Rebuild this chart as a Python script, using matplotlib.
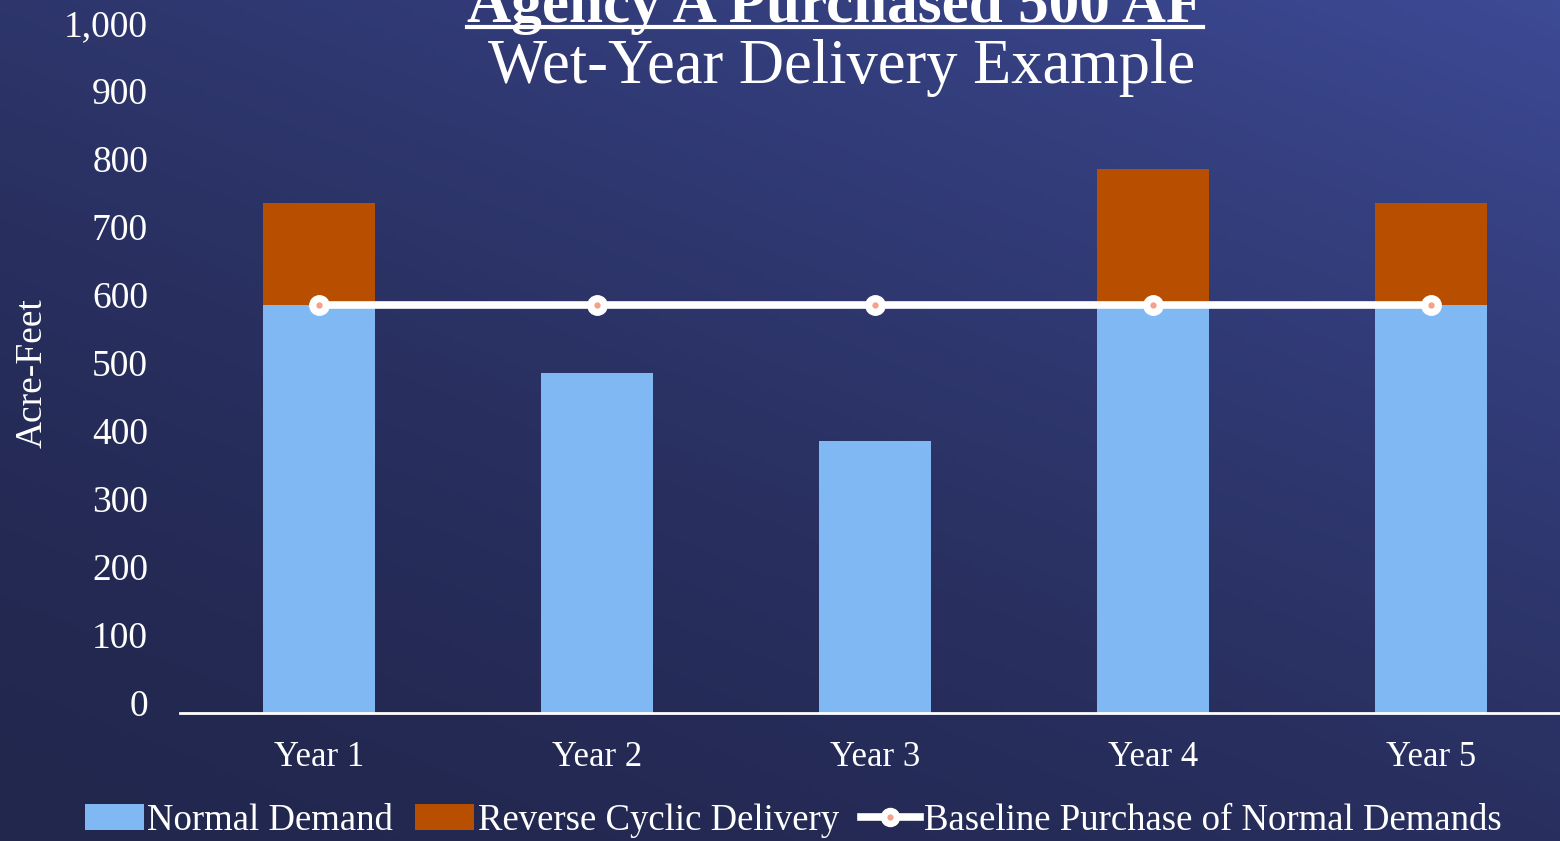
import numpy as np
import matplotlib
matplotlib.use("Agg")
import matplotlib.pyplot as plt
import matplotlib.transforms as mtransforms
from matplotlib.lines import Line2D
from matplotlib.patches import Patch

categories = ["Year 1", "Year 2", "Year 3", "Year 4", "Year 5"]
normal_demand = [600, 500, 400, 600, 600]
reverse_cyclic = [150, 0, 0, 200, 150]
baseline = [600, 600, 600, 600, 600]
yticks = [0, 100, 200, 300, 400, 500, 600, 700, 800, 900, 1000]

plt.rcParams['font.family'] = ['Liberation Serif', 'DejaVu Serif']
W, H = 1560, 841
fig = plt.figure(figsize=(W/100, H/100), dpi=100)

# gradient background
bg = fig.add_axes([0, 0, 1, 1])
xx, yy = np.meshgrid(np.linspace(0, 1, 300), np.linspace(0, 1, 200))
t = 0.55 * xx + 0.75 * yy
t = (t - t.min()) / (t.max() - t.min())
t = t ** 1.6
c0 = np.array([0x22, 0x27, 0x4E]) / 255
c1 = np.array([0x3D, 0x4A, 0x95]) / 255
img = c0[None, None, :] * (1 - t[..., None]) + c1[None, None, :] * t[..., None]
bg.imshow(img, origin='lower', aspect='auto', extent=[0, 1, 0, 1])
bg.axis('off')

ax_left = 180 / W
ax_w = 1390 / W
ax_bottom = 1 - 713 / H
ax_top = 1 - 33 / H
ax = fig.add_axes([ax_left, ax_bottom, ax_w, ax_top - ax_bottom])
ax.patch.set_alpha(0)
x = np.arange(len(categories))
ax.bar(x, normal_demand, width=0.4, color='#7FB8F2', zorder=2, label='Normal Demand')
ax.bar(x, reverse_cyclic, width=0.4, bottom=normal_demand, color='#B84E00', zorder=2,
       label='Reverse Cyclic Delivery')
ax.plot(x, baseline, color='white', lw=5.5, zorder=3, marker='o', markersize=14,
        markerfacecolor='white', markeredgecolor='white')
ax.plot(x, baseline, ls='none', marker='o', markersize=3.5, color='#F4A08A', zorder=4)
ax.set_xlim(-0.5, len(categories) - 0.5)
ax.set_ylim(0, 1000)
ax.set_yticks(yticks)
ax.set_yticklabels([])
# y tick labels drawn slightly above their tick values, as in the reference
ytrans = mtransforms.blended_transform_factory(ax.transAxes, ax.transData) + \
    mtransforms.ScaledTranslation(-32 / 100, 6 / 100, fig.dpi_scale_trans)
for v in yticks:
    ax.text(0, v, f"{v:,}", transform=ytrans, ha='right', va='center',
            fontsize=27, color='white', clip_on=False)
ax.set_xticks(x)
ax.set_xticklabels(categories, fontsize=25, color='white')
ax.tick_params(axis='both', length=0)
ax.tick_params(axis='x', pad=20)
for s in ['top', 'right', 'left']:
    ax.spines[s].set_visible(False)
ax.spines['bottom'].set_color('white')
ax.spines['bottom'].set_linewidth(2)
fig.text(32 / W, 1 - 373 / H, 'Acre-Feet', rotation=90, color='white', fontsize=27,
         ha='center', va='center')

# titles
title = fig.text(835 / W, 1 - 22 / H, 'Agency A Purchased 500 AF', color='white',
                 fontsize=44, fontweight='bold', ha='center', va='baseline')
fig.text(842 / W, 1 - 68 / H, 'Wet-Year Delivery Example', color='white',
         fontsize=45, ha='center', va='center')
fig.canvas.draw()
bb = title.get_window_extent()
uy = 1 - 27 / H
fig.add_artist(Line2D([bb.x0 / W, bb.x1 / W], [uy, uy], color='white', lw=3,
                      transform=fig.transFigure))

handles = [Patch(facecolor='#7FB8F2'), Patch(facecolor='#B84E00'),
           (Line2D([0], [0], color='white', lw=5.5, marker='o', markersize=13,
                   markerfacecolor='white', markeredgecolor='white'),
            Line2D([0], [0], ls='none', marker='o', markersize=3.5, color='#F4A08A'))]
labels = ['Normal Demand', 'Reverse Cyclic Delivery', 'Baseline Purchase of Normal Demands']
leg = fig.legend(handles, labels, loc='center', bbox_to_anchor=(793 / W, 1 - 821 / H),
                 ncol=3, frameon=False, fontsize=26.5, labelcolor='white',
                 handlelength=1.6, handleheight=0.7, handletextpad=0.1, columnspacing=0.6)

fig.savefig('out.png', dpi=100)
